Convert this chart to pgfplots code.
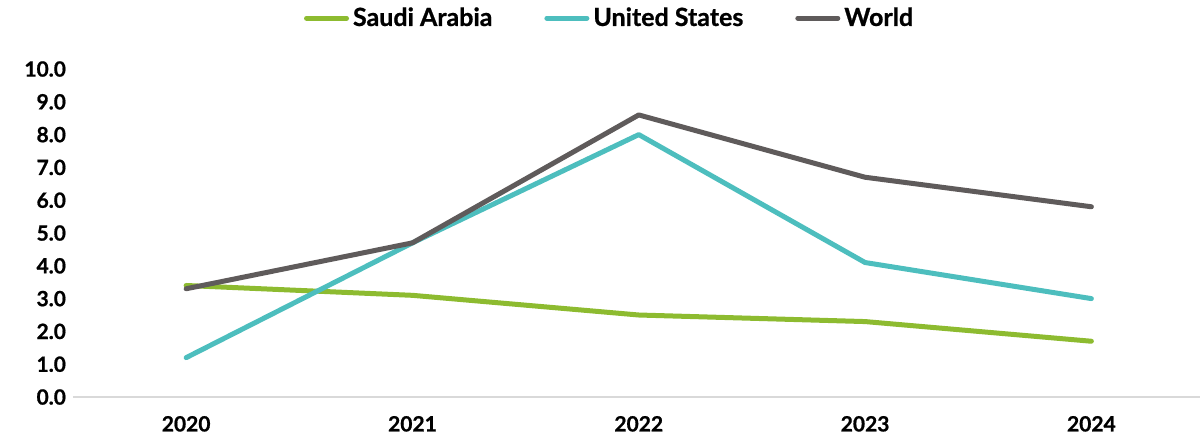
\documentclass[border=0pt]{standalone}
\usepackage{fontspec}
\setmainfont{Lato}[BoldFeatures={FakeBold=0.8}]
\usepackage{pgfplots}
\pgfplotsset{compat=1.18}
\definecolor{sagreen}{RGB}{141,187,48}
\definecolor{usteal}{RGB}{77,190,190}
\definecolor{wgray}{RGB}{95,91,91}
\definecolor{axgray}{RGB}{217,217,217}
\begin{document}
\begin{tikzpicture}
\useasboundingbox (-36.5pt,-22pt) rectangle (564.5pt,198.5pt);
\begin{axis}[
  at={(0,0)}, anchor=south west,
  scale only axis, width=563.5pt, height=164pt,
  xmin=-0.5, xmax=4.48, ymin=0, ymax=10,
  axis x line=bottom, axis y line=left,
  x axis line style={draw=axgray, line width=0.8pt, -},
  y axis line style={draw=none},
  major tick length=0pt,
  xtick={0,1,2,3,4}, xticklabels={2020,2021,2022,2023,2024},
  ytick={0,1,...,10},
  y tick label style={/pgf/number format/fixed, /pgf/number format/fixed zerofill, /pgf/number format/precision=1},
  /pgf/number format/assume math mode=true,
  tick label style={font=\fontsize{10.5pt}{12pt}\selectfont\bfseries},
  xticklabel style={yshift=-6pt},
  legend style={draw=none, at={(rel axis cs:0.477,1.155)}, anchor=center,
    font=\fontsize{12.5pt}{14pt}\selectfont\bfseries, legend columns=3,
    /tikz/every even column/.append style={column sep=24pt}},
  legend image code/.code={\draw[#1, line cap=round] (0pt,0pt) -- (20pt,0pt);},
  every axis plot/.append style={line width=2.5pt, line cap=round, line join=round},
  clip=false,
]
\addplot[sagreen] coordinates {(0,3.4) (1,3.1) (2,2.5) (3,2.3) (4,1.7)};
\addplot[usteal] coordinates {(0,1.2) (1,4.7) (2,8.0) (3,4.1) (4,3.0)};
\addplot[wgray] coordinates {(0,3.3) (1,4.7) (2,8.6) (3,6.7) (4,5.8)};
\legend{Saudi Arabia, United States, World}
\end{axis}
\end{tikzpicture}
\end{document}
